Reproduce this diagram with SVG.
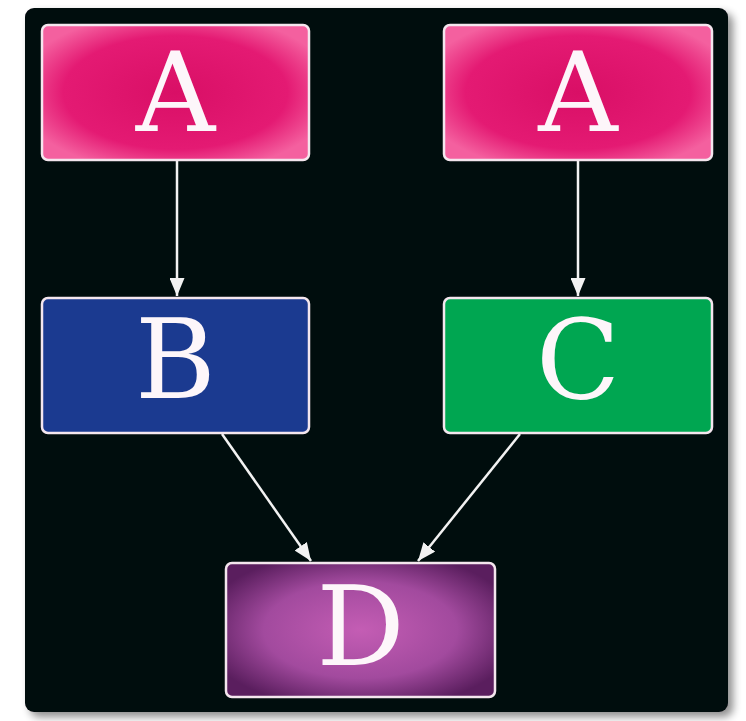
<svg xmlns="http://www.w3.org/2000/svg" width="746" height="721" viewBox="0 0 746 721">
<style>
.node{stroke:#f4e6ee;stroke-width:2.5}
.lbl{font-family:"DejaVu Serif","Liberation Serif",serif;font-weight:normal;font-size:110px;fill:#fdf6fa;text-anchor:middle}
.edge{stroke:#f2f2f2;stroke-width:2.5;fill:none}
</style>
<defs>
<filter id="sh" x="-5%" y="-5%" width="115%" height="115%">
<feGaussianBlur in="SourceAlpha" stdDeviation="4"/>
<feOffset dx="5" dy="5"/>
<feComponentTransfer><feFuncA type="linear" slope="0.45"/></feComponentTransfer>
<feMerge><feMergeNode/><feMergeNode in="SourceGraphic"/></feMerge>
</filter>
<filter id="glow" x="-20%" y="-20%" width="140%" height="140%">
<feGaussianBlur in="SourceAlpha" stdDeviation="2.5"/>
<feComponentTransfer><feFuncA type="linear" slope="0.6"/></feComponentTransfer>
<feFlood flood-color="#ffd0e6"/>
<feComposite operator="in" in2="SourceAlpha"/>
<feMerge><feMergeNode/><feMergeNode in="SourceGraphic"/></feMerge>
</filter>
<radialGradient id="gA" cx="50%" cy="50%" r="60%">
<stop offset="0" stop-color="#d90f66"/>
<stop offset="0.7" stop-color="#e41a73"/>
<stop offset="1" stop-color="#f4609f"/>
</radialGradient>
<radialGradient id="gD" cx="50%" cy="50%" r="60%">
<stop offset="0" stop-color="#c45db4"/>
<stop offset="0.6" stop-color="#a24a9e"/>
<stop offset="1" stop-color="#5a1e5e"/>
</radialGradient>
<marker id="arr" viewBox="0 0 12 10" refX="12" refY="5" markerWidth="18" markerHeight="15" orient="auto" markerUnits="userSpaceOnUse">
<path d="M0,0 L12,5 L0,10 z" fill="#f2f2f2"/>
</marker>
</defs>
<rect x="0" y="0" width="746" height="721" fill="#ffffff"/>
<rect x="25" y="8" width="703" height="704" rx="9" fill="#05080b" filter="url(#sh)"/>
<g id="connectors">
<line class="edge" x1="177" y1="161" x2="177" y2="296" marker-end="url(#arr)"/>
<line class="edge" x1="578" y1="161" x2="578" y2="296" marker-end="url(#arr)"/>
<line class="edge" x1="222" y1="434" x2="311" y2="561" marker-end="url(#arr)"/>
<line class="edge" x1="520" y1="434" x2="418" y2="561" marker-end="url(#arr)"/>
</g>
<g id="nodeA1">
<rect class="node" x="42" y="25" width="267" height="135" rx="6" fill="url(#gA)"/>
<text class="lbl" x="175.5" y="131">A</text>
</g>
<g id="nodeA2">
<rect class="node" x="444" y="25" width="268" height="135" rx="6" fill="url(#gA)"/>
<text class="lbl" x="578" y="131">A</text>
</g>
<g id="nodeB">
<rect class="node" x="42" y="298" width="267" height="135" rx="6" fill="#1b3a90"/>
<text class="lbl" x="175.5" y="398">B</text>
</g>
<g id="nodeC">
<rect class="node" x="444" y="298" width="268" height="135" rx="6" fill="#00a651"/>
<text class="lbl" x="578" y="398">C</text>
</g>
<g id="nodeD">
<rect class="node" x="226" y="563" width="269" height="134" rx="6" fill="url(#gD)"/>
<text class="lbl" x="360.5" y="665">D</text>
</g>
</svg>
